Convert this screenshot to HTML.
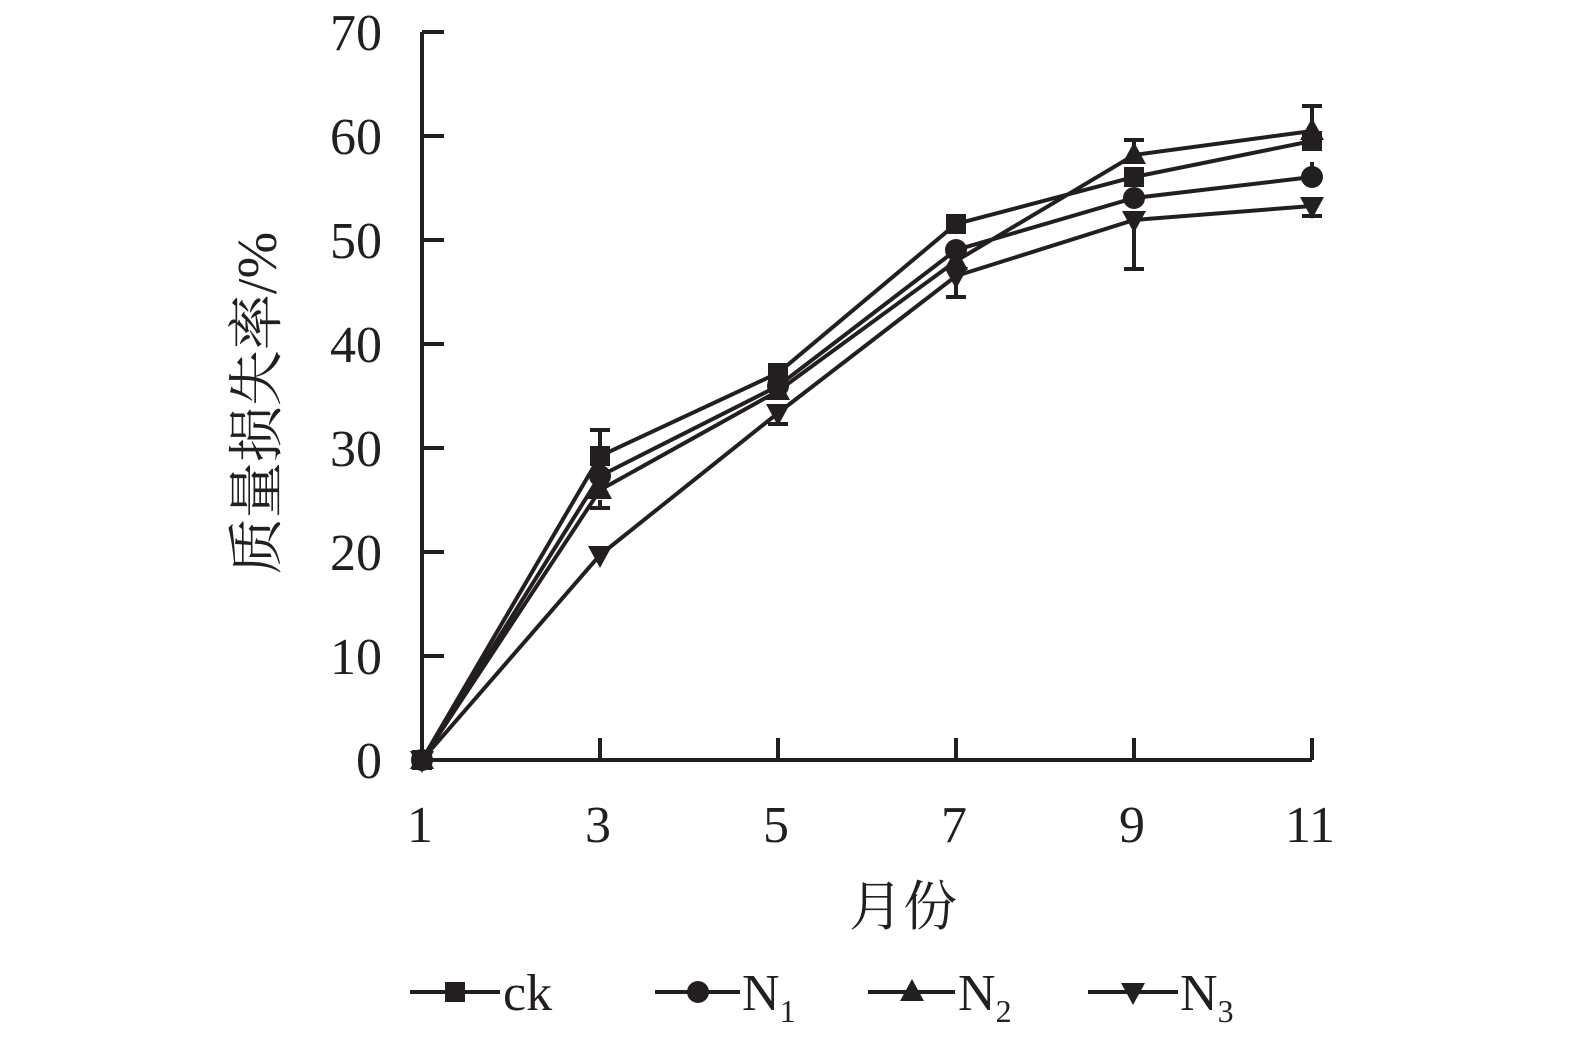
<!DOCTYPE html>
<html><head><meta charset="utf-8"><style>body{margin:0;background:#fff}</style></head><body>
<svg width="1575" height="1049" xmlns="http://www.w3.org/2000/svg" style="font-family:'Liberation Serif','Noto Serif CJK SC',serif">
<defs>
<g id="sq"><rect x="-10" y="-10" width="20" height="20" fill="#231f20"/></g>
<g id="ci"><circle r="11" fill="#231f20"/></g>
<g id="tu"><polygon points="0,-13 12,9 -12,9" fill="#231f20"/></g>
<g id="td"><polygon points="0,13 12,-9 -12,-9" fill="#231f20"/></g>
</defs>
<g stroke="#231f20" stroke-width="4" fill="none">
<path d="M422,32 V760 H1312"/>
<path d="M422,32h22M422,136h22M422,240h22M422,344h22M422,448h22M422,552h22M422,656h22"/>
<path d="M600,760v-22M778,760v-22M956,760v-22M1134,760v-22M1312,760v-22"/>
</g>
<g font-size="52" fill="#231f20" text-anchor="end">
<text x="382" y="50">70</text><text x="382" y="154">60</text><text x="382" y="258">50</text><text x="382" y="362">40</text><text x="382" y="466">30</text><text x="382" y="570">20</text><text x="382" y="674">10</text><text x="382" y="778">0</text>
</g>
<g font-size="52" fill="#231f20" text-anchor="middle">
<text x="420" y="842">1</text><text x="598" y="842">3</text><text x="776" y="842">5</text><text x="954" y="842">7</text><text x="1132" y="842">9</text><text x="1310" y="842">11</text>
<text x="903" y="925" font-size="54">月份</text>
<text transform="translate(276,403) rotate(-90)" font-size="56">质量损失率/%</text>
</g>
<g stroke="#231f20" stroke-width="4">
<path d="M600,456V430M590,430h20M600,500V508M590,508h20"/>
<path d="M778,372V378M768,378h20M778,405V424M768,424h20"/>
<path d="M956,270V297M946,297h20"/>
<path d="M1134,219V269M1124,269h20M1134,153V140M1124,140h20"/>
<path d="M1312,130V106M1302,106h20M1312,205V216M1302,216h20M1312,170V162"/>
</g>
<g stroke="#231f20" stroke-width="4" fill="none">
<polyline points="422,760 600,456 778,373 956,224 1134,177 1312,141"/>
<polyline points="422,760 600,476 778,386 956,250 1134,198 1312,177"/>
<polyline points="422,760 600,490 778,391 956,261 1134,155 1312,131"/>
<polyline points="422,760 600,555 778,413 956,276 1134,220 1312,206"/>
</g>
<g>
<use href="#sq" x="422" y="760"/><use href="#ci" x="422" y="760"/><use href="#tu" x="422" y="760"/><use href="#td" x="422" y="760"/>
<use href="#sq" x="600" y="456"/><use href="#sq" x="778" y="373"/><use href="#sq" x="956" y="224"/><use href="#sq" x="1134" y="177"/><use href="#sq" x="1312" y="141"/>
<use href="#ci" x="600" y="476"/><use href="#ci" x="778" y="386"/><use href="#ci" x="956" y="250"/><use href="#ci" x="1134" y="198"/><use href="#ci" x="1312" y="177"/>
<use href="#tu" x="600" y="490"/><use href="#tu" x="778" y="391"/><use href="#tu" x="956" y="261"/><use href="#tu" x="1134" y="155"/><use href="#tu" x="1312" y="131"/>
<use href="#td" x="600" y="555"/><use href="#td" x="778" y="413"/><use href="#td" x="956" y="276"/><use href="#td" x="1134" y="220"/><use href="#td" x="1312" y="206"/>
</g>
<g stroke="#231f20" stroke-width="4">
<path d="M410,992H500M655,992H740M868,992H955M1088,992H1178"/>
</g>
<use href="#sq" x="455" y="992"/><use href="#ci" x="698" y="992"/><use href="#tu" x="912" y="992"/><use href="#td" x="1133" y="992"/>
<g font-size="52" fill="#231f20">
<text x="503" y="1010">ck</text>
<text x="742" y="1010">N<tspan font-size="32" dy="12">1</tspan></text>
<text x="958" y="1010">N<tspan font-size="32" dy="12">2</tspan></text>
<text x="1180" y="1010">N<tspan font-size="32" dy="12">3</tspan></text>
</g>
</svg>
</body></html>
